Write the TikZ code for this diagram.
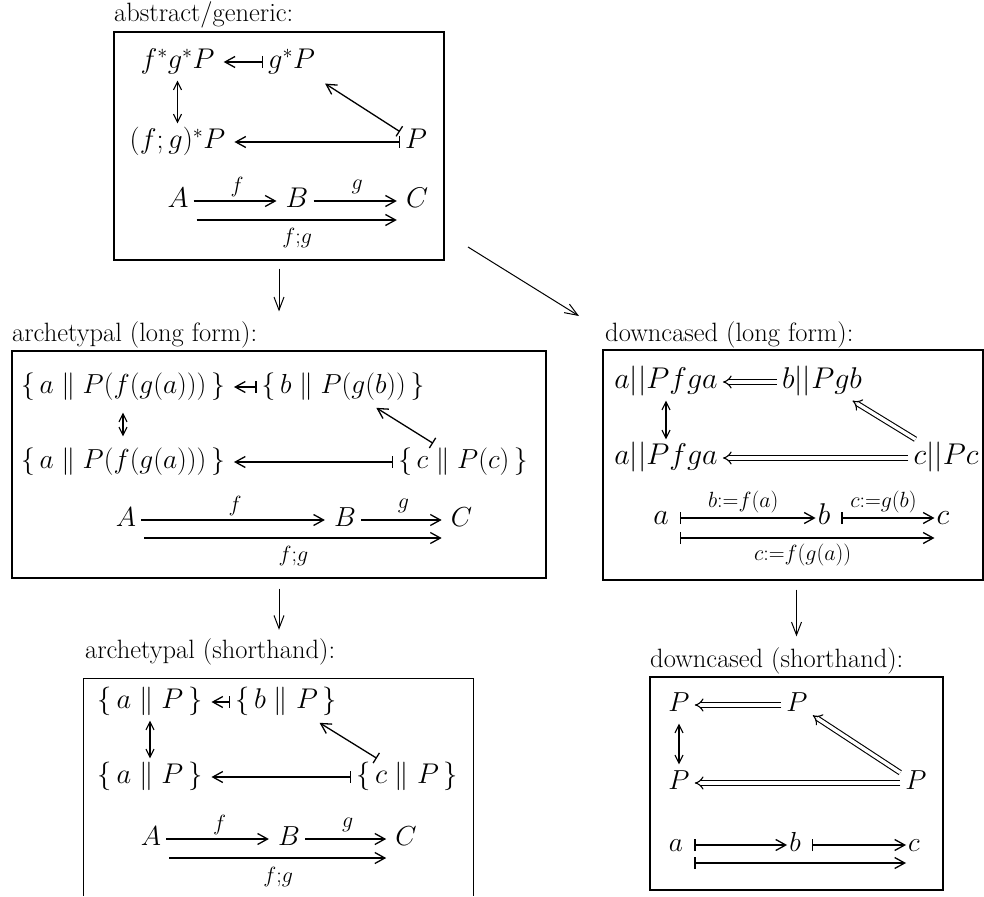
\RequirePackage{fix-cm}
\documentclass[tikz,border=0pt]{standalone}
\usetikzlibrary{arrows.meta}
\begin{document}
\begin{tikzpicture}[x=1pt,y=-1pt,
  every node/.style={inner sep=0pt},
  obj/.style={font=\fontsize{27.5}{32}\selectfont, inner xsep=5pt, inner ysep=5pt, text height=20pt, text depth=7pt},
  bobj/.style={obj, font=\fontsize{28.5}{34}\selectfont},
  dobj/.style={obj, font=\fontsize{30}{36}\selectfont},
  sobj/.style={obj, font=\fontsize{28.5}{34}\selectfont},
  lbl/.style={font=\fontsize{22}{26}\selectfont},
  ttl/.style={font=\fontsize{26.5}{32}\selectfont, anchor=base west},
  boxline/.style={line width=1.2pt},
  boxs/.style={boxline, draw},
  ar/.style={line width=1.3pt, -{Straight Barb[length=10pt,width=11pt]}, shorten >=4pt},
  mar/.style={line width=1.3pt, {Bar[width=12pt]}-{Straight Barb[length=10pt,width=11pt]}, shorten >=4pt},
  mto/.style={line width=1.3pt, {Bar[width=12pt]}-{Straight Barb[length=10pt,width=11pt]}, shorten >=-3pt, shorten <=6pt},
  dar/.style={line width=1.1pt, {Straight Barb[length=8pt,width=8pt]}-{Straight Barb[length=8pt,width=8pt]}},
  dbl/.style={double, double distance=3.4pt, line width=1.1pt, -{Implies[length=11pt,width=22pt]}},
  conn/.style={line width=1pt, -{Straight Barb[length=13pt,width=10pt]}}
]
\useasboundingbox (0,0) rectangle (984,896);

% ---------- boxes ----------
\node[boxs, minimum width=330pt, minimum height=228pt] (box1) at (279,146) {};
\node[boxs, minimum width=534pt, minimum height=227pt] (box2) at (279,464.5) {};
\node[boxs, minimum width=380pt, minimum height=230pt] (box3) at (793,465) {};
\node[minimum width=389pt, minimum height=217pt] (box4) at (278.5,787.5) {};
\draw[boxline] (box4.south west) -- (box4.north west) -- (box4.north east) -- (box4.south east);
\node[boxs, minimum width=293pt, minimum height=213pt] (box5) at (796.5,783.5) {};

% ---------- titles ----------
\node[ttl] (t1) at (114,22) {abstract/generic:};
\node[ttl] (t2) at (12,341) {archetypal (long form):};
\node[ttl] (t3) at (605,341) {downcased (long form):};
\node[ttl] (t4) at (85,658) {archetypal (shorthand):};
\node[ttl] (t5) at (650,667) {downcased (shorthand):};

% ---------- connectors between boxes ----------
\coordinate (c2s) at (468,247);
\coordinate (c2e) at (579,316);
\draw[conn, shorten <=8pt, shorten >=39pt] (box1.south) -- (box2.north);
\draw[conn] (c2s) -- (c2e);
\draw[conn, shorten <=10pt, shorten >=49pt] (box2.south) -- (box2.south |- box4.north);
\draw[conn, shorten <=9pt, shorten >=40pt] (box5.north |- box3.south) -- (box5.north);

% ---------- box 1: abstract/generic ----------
\node[bobj] (fgP) at (177.5,62) {$f^*g^*P$};
\node[bobj] (gP) at (291.5,62) {$g^*P$};
\node[bobj] (fgP2) at (177.5,142) {$(f;g)^*P$};
\node[bobj] (P1) at (416,142) {$P$};
\node[bobj] (A1) at (178,201) {$A$};
\node[bobj] (B1) at (297,201) {$B$};
\node[bobj] (C1) at (417,201) {$C$};
\draw[mar] (gP) -- (fgP);
\draw[dar] (fgP) -- (fgP2);
\draw[mar] (P1) -- (fgP2);
\draw[mar, shorten >=6pt] (P1) -- (gP);
\draw[ar] (A1) -- node[lbl, yshift=14pt] {$f$} (B1);
\draw[ar] (B1) -- node[lbl, yshift=14pt] {$g$} (C1);
\draw[ar, shorten <=3pt] ([yshift=-19pt]A1.east) -- node[lbl, yshift=-18pt] {$f{;}g$} ([yshift=-19pt]C1.west);

% ---------- box 2: archetypal (long form) ----------
\node[obj] (a1) at (123,387) {$\{\,a \parallel P(f(g(a)))\,\}$};
\node[obj] (b1) at (343,387) {$\{\,b \parallel P(g(b))\,\}$};
\node[obj] (a2) at (123,462) {$\{\,a \parallel P(f(g(a)))\,\}$};
\node[obj] (c2) at (463,462) {$\{\,c \parallel P(c)\,\}$};
\node[obj] (A2) at (126,520) {$A$};
\node[obj] (B2) at (345,520) {$B$};
\node[obj] (C2) at (461.5,520) {$C$};
\draw[mar] (b1) -- (a1);
\draw[dar, shorten <=7pt, shorten >=7pt] (a1) -- (a2);
\draw[mar] (c2) -- (a2);
\draw[mar] (c2) -- (b1);
\draw[ar] (A2) -- node[lbl, yshift=14pt] {$f$} (B2);
\draw[ar] (B2) -- node[lbl, yshift=14pt] {$g$} (C2);
\draw[ar, shorten <=3pt] ([yshift=-18pt]A2.east) -- node[lbl, yshift=-18pt] {$f{;}g$} ([yshift=-18pt]C2.west);

% ---------- box 3: downcased (long form) ----------
\node[dobj] (r1a) at (666,382) {$a||Pfga$};
\node[dobj] (r1b) at (822,382) {$b||Pgb$};
\node[dobj] (r2a) at (666,458) {$a||Pfga$};
\node[dobj] (r2c) at (946,458) {$c||Pc$};
\node[dobj] (a3) at (661,518) {$a$};
\node[dobj] (b3) at (824,518) {$b$};
\node[dobj] (c3) at (943,518) {$c$};
\draw[dbl] (r1b) -- (r1a);
\draw[dar] (r1a) -- (r2a);
\draw[dbl] (r2c) -- (r2a);
\draw[dbl] (r2c) -- (r1b);
\draw[mto] (a3) -- node[lbl, yshift=16pt] {$b{:=}f(a)$} (b3);
\draw[mto] (b3) -- node[lbl, yshift=16pt] {$c{:=}g(b)$} (c3);
\draw[mto] ([yshift=-20pt]a3.east) -- node[lbl, yshift=-17pt] {$c{:=}f(g(a))$} ([yshift=-20pt]c3.west);

% ---------- box 4: archetypal (shorthand) ----------
\node[sobj] (s1a) at (150,702) {$\{\,a \parallel P\,\}$};
\node[sobj] (s1b) at (286,702) {$\{\,b \parallel P\,\}$};
\node[sobj] (s2a) at (150,777) {$\{\,a \parallel P\,\}$};
\node[sobj] (s2c) at (407,777) {$\{\,c \parallel P\,\}$};
\node[obj] (A4) at (151,839) {$A$};
\node[obj] (B4) at (289,839) {$B$};
\node[obj] (C4) at (406,839) {$C$};
\draw[mar] (s1b) -- (s1a);
\draw[dar] (s1a) -- (s2a);
\draw[mar] (s2c) -- (s2a);
\draw[mar] (s2c) -- (s1b);
\draw[ar] (A4) -- node[lbl, yshift=14pt] {$f$} (B4);
\draw[ar] (B4) -- node[lbl, yshift=14pt] {$g$} (C4);
\draw[ar, shorten <=3pt] ([yshift=-19pt]A4.east) -- node[lbl, yshift=-19pt] {$f{;}g$} ([yshift=-19pt]C4.west);

% ---------- box 5: downcased (shorthand) ----------
\node[obj] (d1a) at (679,705) {$P$};
\node[obj] (d1b) at (797,705) {$P$};
\node[obj] (d2a) at (679,783) {$P$};
\node[obj] (d2c) at (916,783) {$P$};
\node[obj] (a5) at (676,845) {$a$};
\node[obj] (b5) at (795,845) {$b$};
\node[obj] (c5) at (914,845) {$c$};
\draw[dbl] (d1b) -- (d1a);
\draw[dar] (d1a) -- (d2a);
\draw[dbl] (d2c) -- (d2a);
\draw[dbl] (d2c) -- (d1b);
\draw[mto] (a5) -- (b5);
\draw[mto] (b5) -- (c5);
\draw[mto] ([yshift=-18pt]a5.east) -- ([yshift=-18pt]c5.west);

\end{tikzpicture}
\end{document}
